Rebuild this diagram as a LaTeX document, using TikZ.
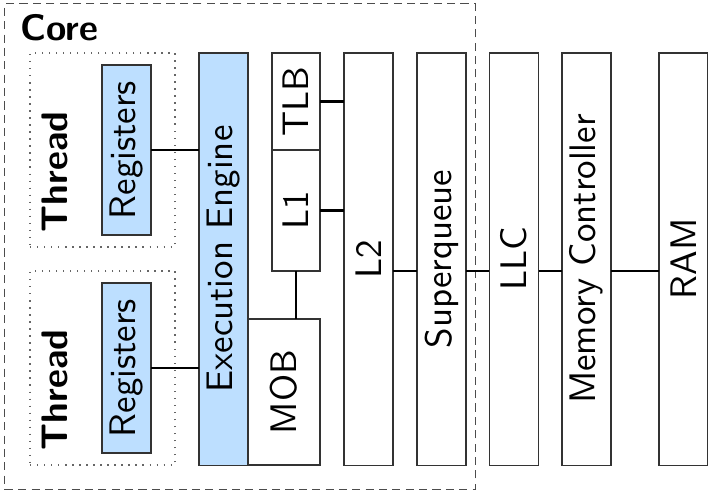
\documentclass[tikz,border=0pt]{standalone}
\usepackage{tikz}
\definecolor{regblue}{RGB}{189,223,255}

\begin{document}
\begin{tikzpicture}[x=0.01cm,y=-0.01cm,
    font=\fontsize{10.5}{12.6}\selectfont\sffamily,
    unit/.style={draw=black!80,line width=0.35pt,inner sep=0pt,outer sep=0pt,minimum width=0.49cm},
    hot/.style={unit,fill=regblue},
    threadbox/.style={draw=black!60,dash pattern=on 0.4pt off 1.6pt,line width=0.45pt,inner sep=0pt,
      minimum width=1.45cm,minimum height=1.94cm},
    wire/.style={line width=0.65pt,black}]
  \useasboundingbox (0,0) rectangle (708,493);
  % ---------------- core ----------------
  \node[draw=black!70,dash pattern=on 2.3pt off 1.5pt,line width=0.35pt,inner sep=0pt,
    minimum width=4.70cm,minimum height=4.85cm] (core) at (240,246.5) {};
  \node[anchor=base west,inner sep=0pt,font=\fontsize{10.5}{12.6}\selectfont\sffamily\bfseries] (corelbl) at (20,40) {Core};
  \foreach \i/\yc in {1/150,2/368}{
    \node[threadbox] (thread\i) at (102.5,\yc) {};
    \node[anchor=south,inner sep=0pt,font=\fontsize{10.5}{12.6}\selectfont\sffamily\bfseries] (threadlbl\i) at (55,\yc+83) {\rotatebox{90}{Thread}};
    \node[hot,minimum height=1.70cm] (reg\i) at (126.5,\yc) {\rotatebox{90}{Registers}};
  }
  \node[hot,minimum height=4.12cm] (exec) at (223.5,259) {\rotatebox{90}{Execution Engine}};
  \node[unit,minimum width=0.48cm,minimum height=0.97cm] (tlb) at (296,101.5) {\rotatebox{90}{TLB}};
  \node[unit,minimum width=0.48cm,minimum height=1.21cm] (l1) at (296,210.5) {\rotatebox{90}{L1}};
  \node[unit,minimum width=0.72cm,minimum height=1.46cm] (mob) at (284,392) {\rotatebox{90}{MOB}};
  % ---------------- memory hierarchy ----------------
  \foreach \n/\x/\t in {l2/368.5/L2,sq/441.5/Superqueue,llc/514/LLC,mc/586.5/Memory Controller,ram/683.5/RAM}
    \node[unit,minimum height=4.12cm] (\n) at (\x,259) {\rotatebox{90}{\t}};
  % ---------------- wires ----------------
  \foreach \i in {1,2}
    \draw[wire] (reg\i.east) -- (reg\i.east -| exec.west);
  \draw[wire] (tlb.east) -- (tlb.east -| l2.west);
  \draw[wire] (l1.east) -- (l1.east -| l2.west);
  \draw[wire] (l1.south) -- (l1.south |- mob.north);
  \foreach \a/\b in {l2/sq,sq/llc,llc/mc,mc/ram}
    \draw[wire] (\a.east |- l1.south) -- (\b.west |- l1.south);
\end{tikzpicture}
\end{document}
